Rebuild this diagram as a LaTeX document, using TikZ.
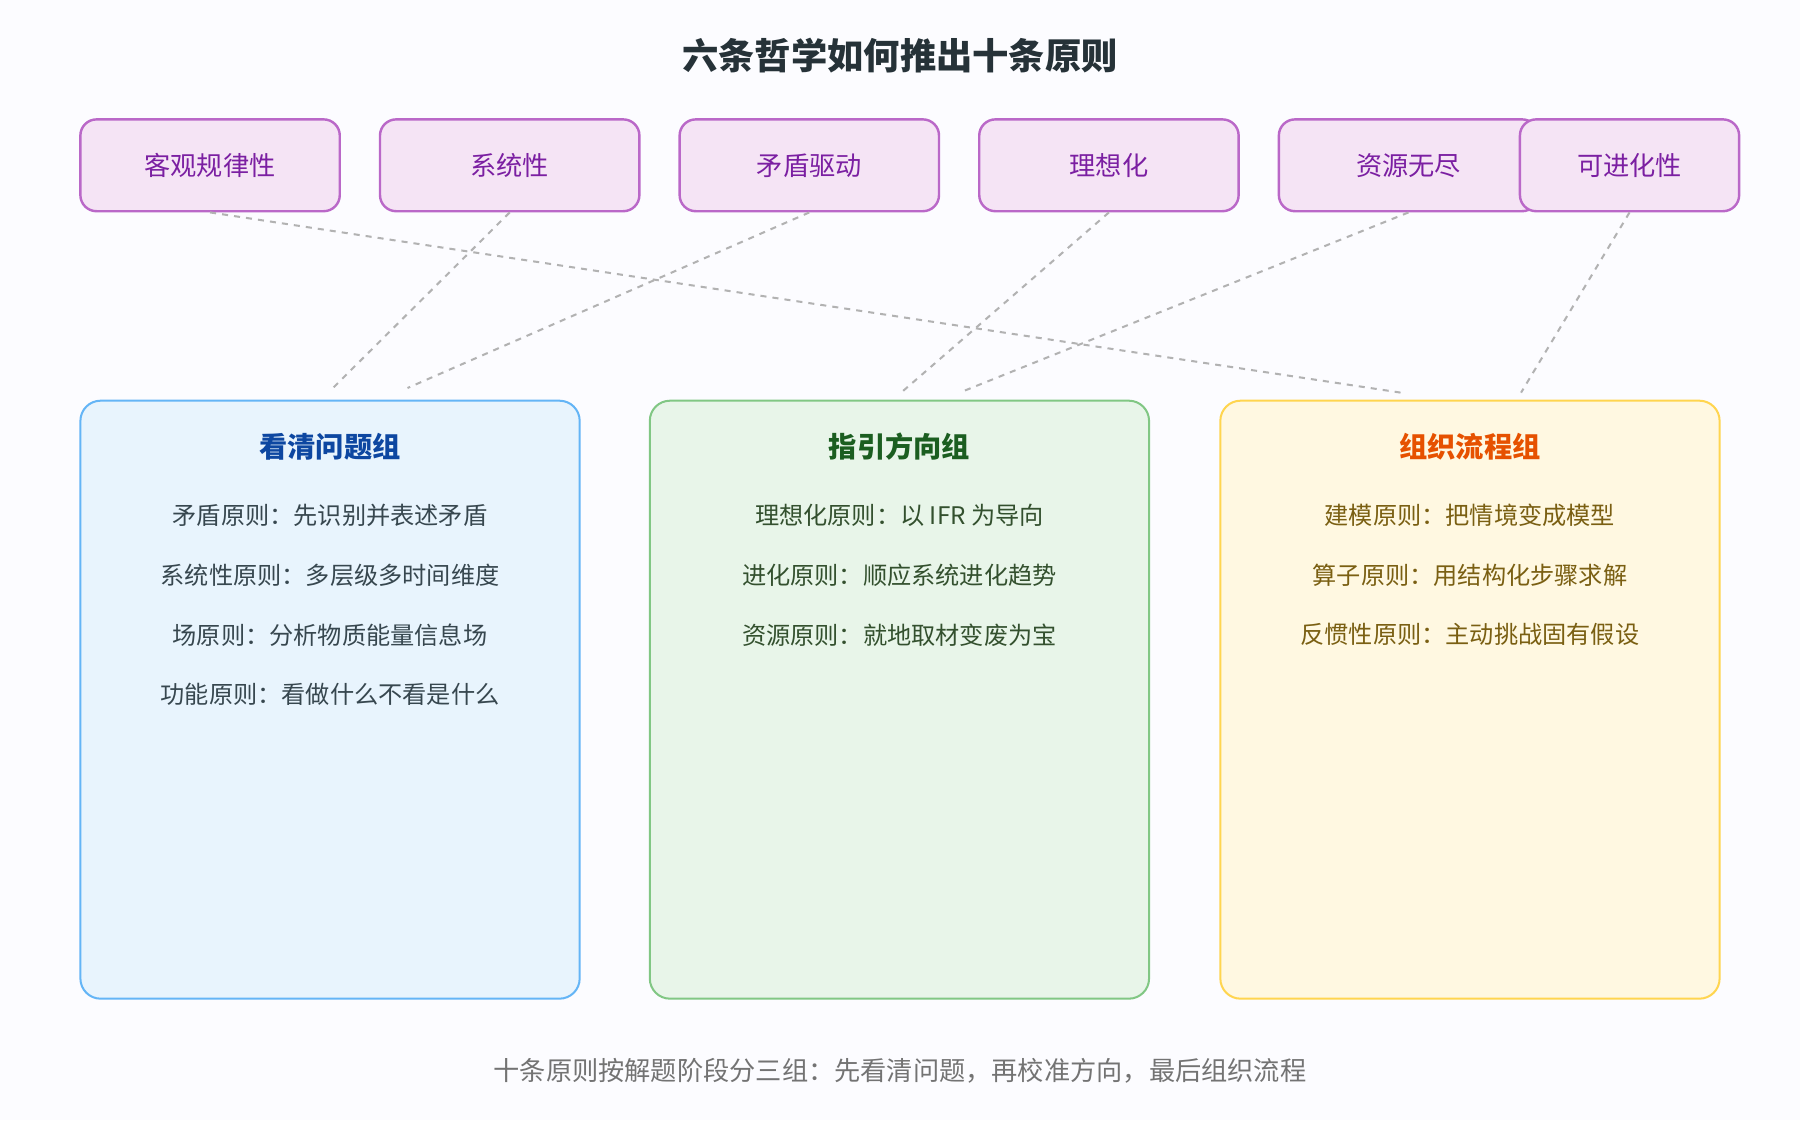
\documentclass[tikz,border=0pt]{standalone}
\usepackage{fontspec}
\setmainfont{Noto Sans CJK SC}
\usepackage{xcolor}
\definecolor{pinkfill}{HTML}{F5E4F5}
\definecolor{pinkline}{HTML}{BA68C8}
\definecolor{pinktext}{HTML}{7B1FA2}
\definecolor{bluefill}{HTML}{E8F4FD}
\definecolor{blueline}{HTML}{64B5F6}
\definecolor{bluetitle}{HTML}{0D47A1}
\definecolor{bluetext}{HTML}{37474F}
\definecolor{greenfill}{HTML}{E8F5E9}
\definecolor{greenline}{HTML}{81C784}
\definecolor{greentitle}{HTML}{1B5E20}
\definecolor{greentext}{HTML}{33502E}
\definecolor{yellowfill}{HTML}{FFF8E1}
\definecolor{yellowline}{HTML}{FFD54F}
\definecolor{yellowtitle}{HTML}{E65100}
\definecolor{yellowtext}{HTML}{7A5F12}
\definecolor{titletext}{HTML}{263238}
\begin{document}
\begin{tikzpicture}[x=0.02cm,y=-0.02cm,
    phil node/.style={draw=pinkline,fill=pinkfill,line width=1.2pt,rounded corners=8pt,
      minimum width=4.52cm,minimum height=1.6cm,text=pinktext,font=\fontsize{13}{15}\selectfont},
    group node/.style={line width=1pt,rounded corners=10pt,minimum width=8.7cm,minimum height=10.42cm},
    gtitle/.style={font=\fontsize{14}{16}\selectfont\bfseries},
    gline/.style={font=\fontsize{12}{14}\selectfont},
    link/.style={dashed,draw=gray!60,line width=1pt}]
  \fill[white!97!blue!40] (0,0) rectangle (1568,976);
  \node[font=\fontsize{18}{21}\selectfont\bfseries,text=titletext] (title) at (784,48) {六条哲学如何推出十条原则};
  % groups
  \node[group node,draw=blueline,fill=bluefill] (g1) at (287.5,609.5) {};
  \node[group node,draw=greenline,fill=greenfill] (g2) at (783.5,609.5) {};
  \node[group node,draw=yellowline,fill=yellowfill] (g3) at (1280.5,609.5) {};
  \node[gtitle,text=bluetitle] (g1t) at (287.5,389) {看清问题组};
  \node[gtitle,text=greentitle] (g2t) at (783.5,389) {指引方向组};
  \node[gtitle,text=yellowtitle] (g3t) at (1280.5,389) {组织流程组};
  \foreach \t [count=\i] in {矛盾原则：先识别并表述矛盾,系统性原则：多层级多时间维度,场原则：分析物质能量信息场,功能原则：看做什么不看是什么}
    \node[gline,text=bluetext] (b\i) at (287.5,397+52*\i) {\t};
  \foreach \t [count=\i] in {理想化原则：以 IFR 为导向,进化原则：顺应系统进化趋势,资源原则：就地取材变废为宝}
    \node[gline,text=greentext] (c\i) at (783.5,397+52*\i) {\t};
  \foreach \t [count=\i] in {建模原则：把情境变成模型,算子原则：用结构化步骤求解,反惯性原则：主动挑战固有假设}
    \node[gline,text=yellowtext] (d\i) at (1280.5,397+52*\i) {\t};
  % philosophies
  \node[phil node] (p1) at (183,144) {客观规律性};
  \node[phil node] (p2) at (444,144) {系统性};
  \node[phil node] (p3) at (705,144) {矛盾驱动};
  \node[phil node] (p4) at (966,144) {理想化};
  \node[phil node] (p5) at (1227,144) {资源无尽};
  \node[phil node,minimum width=3.82cm] (p6) at (1419.5,144) {可进化性};
  \coordinate (e1) at (1220,342);
  \coordinate (e2) at (290,338);
  \coordinate (e3) at (355,338);
  \coordinate (e4) at (785,342);
  \coordinate (e5) at (836,342);
  \coordinate (e6) at (1325,342);
  \foreach \i in {1,...,6}
    \draw[link] (p\i.south) -- (e\i);
  \node[font=\fontsize{13}{15}\selectfont,text=gray!90!black] (foot) at (784,933) {十条原则按解题阶段分三组：先看清问题，再校准方向，最后组织流程};
\end{tikzpicture}
\end{document}
